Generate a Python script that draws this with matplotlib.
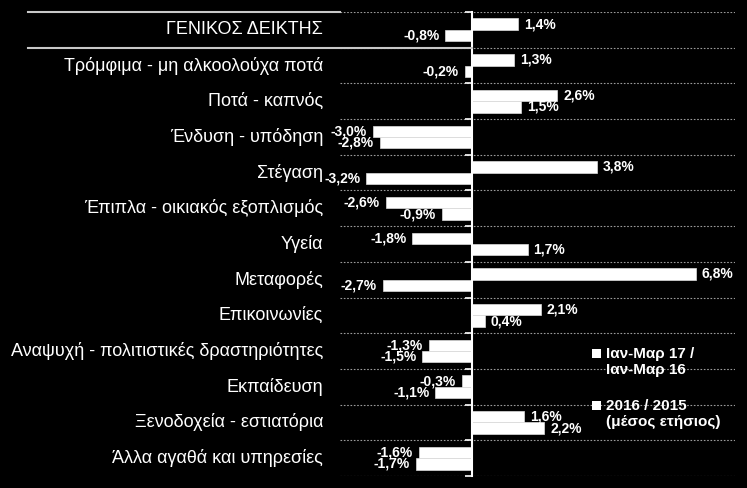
import matplotlib
matplotlib.use('Agg')
import matplotlib.pyplot as plt
import matplotlib.transforms as mtransforms
from matplotlib.lines import Line2D
from matplotlib.patches import Rectangle
import numpy as np

categories = ['ΓΕΝΙΚΟΣ ΔΕΙΚΤΗΣ', 'Τρόμφιμα - μη αλκοολούχα ποτά', 'Ποτά - καπνός',
              'Ένδυση - υπόδηση', 'Στέγαση', 'Έπιπλα - οικιακός εξοπλισμός', 'Υγεία',
              'Μεταφορές', 'Επικοινωνίες', 'Αναψυχή - πολιτιστικές δραστηριότητες',
              'Εκπαίδευση', 'Ξενοδοχεία - εστιατόρια', 'Άλλα αγαθά και υπηρεσίες']
q1_17 = [1.4, 1.3, 2.6, -3.0, 3.8, -2.6, -1.8, 6.8, 2.1, -1.3, -0.3, 1.6, -1.6]
avg_16 = [-0.8, -0.2, 1.5, -2.8, -3.2, -0.9, 1.7, -2.7, 0.4, -1.5, -1.1, 2.2, -1.7]
series_names = ['Ιαν-Μαρ 17 /\nΙαν-Μαρ 16', '2016 / 2015\n(μέσος ετήσιος)']

plt.rcParams['font.family'] = ['Liberation Sans', 'DejaVu Sans']

W, H = 747, 488
fig = plt.figure(figsize=(W/100, H/100), dpi=100, facecolor='black')
ax = fig.add_axes([340/W, 12/H, 395/W, 464/H])
ax.set_facecolor('black')

y = np.arange(len(categories)) + 0.5
h = 0.32
b1 = ax.barh(y - h/2, q1_17, height=h, color='white', edgecolor='#dddddd', lw=0.5, zorder=3)
b2 = ax.barh(y + h/2, avg_16, height=h, color='white', edgecolor='#dddddd', lw=0.5, zorder=3)
ax.set_xlim(-4, 8)
ax.set_ylim(len(categories), 0)

def fmt(v):
    return f'{v:.1f}%'.replace('.', ',')

for bars, vals in ((b1, q1_17), (b2, avg_16)):
    for rect, v in zip(bars, vals):
        yc = rect.get_y() + rect.get_height() / 2
        ax.annotate(fmt(v), (v, yc), xytext=(6 if v >= 0 else -6, 0),
                    textcoords='offset pixels', ha='left' if v >= 0 else 'right',
                    va='center', color='white', fontsize=10, fontweight='bold', zorder=4)

# category separators
ax.set_yticks(np.arange(len(categories) + 1))
ax.set_yticklabels([])
ax.grid(axis='y', color='#9a9a9a', linestyle=(0, (1.5, 1.5)), lw=0.8)
ax.set_xticks([])
for s in ['top', 'right', 'bottom']:
    ax.spines[s].set_visible(False)
ax.spines['left'].set_position(('data', 0))
ax.spines['left'].set_color('white')
ax.spines['left'].set_linewidth(1.5)
ax.spines['left'].set_zorder(5)
ax.tick_params(axis='y', colors='white', length=5, width=1.2, direction='out')

for yi, cat in zip(y, categories):
    ax.text(-0.043, yi, cat, transform=ax.get_yaxis_transform(), ha='right', va='center',
            color='white', fontsize=13)

# solid lines around the headline row
tr = mtransforms.blended_transform_factory(fig.transFigure, ax.transData)
fig.add_artist(Line2D([28/W, 340/W], [0, 0], transform=tr, color='#c8c8c8', lw=1.5))
fig.add_artist(Line2D([28/W, 472/W], [1, 1], transform=tr, color='#c8c8c8', lw=1.5))

# legend, square aligned with first line of each label
for name, top in zip(series_names, [347, 399]):
    fig.add_artist(Rectangle((592/W, (H - top - 11)/H), 9/W, 9/H, transform=fig.transFigure,
                             facecolor='white', edgecolor='none'))
    fig.text(606/W, (H - top)/H, name, ha='left', va='top', color='white',
             fontsize=11, fontweight='bold', linespacing=1.15)

fig.savefig('out.png', dpi=100, facecolor='black')
